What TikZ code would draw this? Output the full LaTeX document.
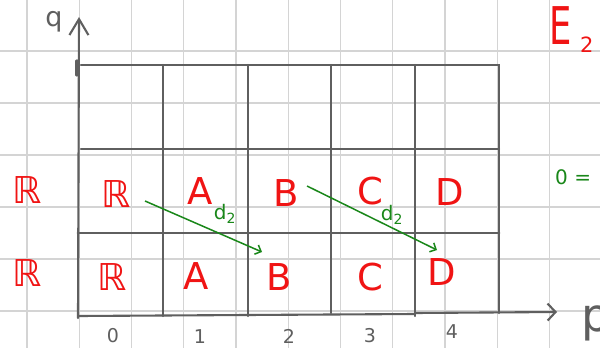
\documentclass[tikz,border=0pt]{standalone}
\usepackage{fontspec}
\setmainfont{DejaVu Sans}
\usetikzlibrary{arrows.meta}
\definecolor{hred}{RGB}{240,20,20}
\definecolor{hgreen}{RGB}{25,135,25}
\definecolor{hgray}{RGB}{95,95,95}
\definecolor{gridc}{RGB}{212,212,212}
\tikzset{
 bgrid/.style={draw=gridc, line width=1.3pt},
 boxline/.style={draw=hgray, line width=2.1pt, line cap=round},
 redlbl/.style={text=hred, font=\fontsize{37}{40}\selectfont, inner sep=0pt},
 grnarrow/.style={draw=hgreen, line width=1.5pt, -{Straight Barb[length=5pt,width=10pt]}},
 grnlbl/.style={text=hgreen, font=\fontsize{20}{22}\selectfont, inner sep=0pt},
 numlbl/.style={text=hgray, font=\fontsize{19}{21}\selectfont, inner sep=0pt},
}
\begin{document}
\begin{tikzpicture}[x=1pt,y=-1pt]
\useasboundingbox (0,0) rectangle (600,348);
\fill[white] (0,0) rectangle (600,348);
% background paper grid
\foreach \i in {0,...,10} \draw[bgrid] ({27+52.25*\i},0) -- ({27+52.25*\i},348);
\foreach \j in {1,...,6} \draw[bgrid] (0,{-1+52*\j}) -- (600,{-1+52*\j});
% table lines
\draw[boxline] (81,65) -- (499,65) -- (499,313);
\draw[boxline] (81,149) -- (499,149);
\draw[boxline, line width=2.8pt] (78,233) -- (499,233);
\draw[boxline] (79,316) -- (415,314);
\draw[boxline] (163,65) -- (163,316);
\draw[boxline] (248,65) -- (248,316);
\draw[boxline] (331,65) -- (331,313);
\draw[boxline] (415,65) -- (415,316);
% axes
\draw[boxline, -{Straight Barb[length=16pt,width=19pt]}] (78,318) -- (79,17);
\draw[boxline, line width=3.2pt] (77,61) -- (77,75);
\draw[boxline, -{Straight Barb[length=8pt,width=17pt]}] (415,313) -- (557,312);
\node[text=hgray, font=\fontsize{27}{29}\selectfont, inner sep=0pt, anchor=base] (qlab) at (54,27) {q};
\node[text=hgray, font=\fontsize{46}{48}\selectfont, inner sep=0pt, anchor=base west] (plab) at (581,331) {p};
% column numbers
\node[numlbl] (n0) at (113,336) {0};
\node[numlbl] (n1) at (200,337) {1};
\node[numlbl] (n2) at (289,336) {2};
\node[numlbl] (n3) at (370,336) {3};
\node[numlbl] (n4) at (452,332) {4};
% row 1
\node[redlbl] (rl1) at (27,190) {ℝ};
\node[redlbl] (r10) at (116,194) {ℝ};
\node[redlbl] (r11) at (200,191) {A};
\node[redlbl] (r12) at (286,193) {B};
\node[redlbl] (r13) at (370,191) {C};
\node[redlbl] (r14) at (450,192) {D};
% row 2
\node[redlbl] (rl2) at (27,273) {ℝ};
\node[redlbl] (r20) at (112,277) {ℝ};
\node[redlbl] (r21) at (196,276) {A};
\node[redlbl] (r22) at (279,277) {B};
\node[redlbl] (r23) at (370,277) {C};
\node[redlbl] (r24) at (442,272) {D};
% differentials
\coordinate (a1s) at (145,201);
\coordinate (a1e) at (262,252);
\coordinate (a2s) at (307,186);
\coordinate (a2e) at (437,250);
\draw[grnarrow] (a1s) -- (a1e);
\draw[grnarrow] (a2s) -- (a2e);
\node[grnlbl] (d1) at (225,214) {d\textsubscript{2}};
\node[grnlbl] (d2) at (392,215) {d\textsubscript{2}};
% right margin notes
\node[text=hred, font=\fontsize{52}{54}\selectfont, inner sep=0pt, anchor=base west] (E) at (549,45) {\scalebox{0.68}[1]{E}};
\node[text=hred, font=\fontsize{21}{23}\selectfont, inner sep=0pt, anchor=base west] (Esub) at (580,52) {2};
\node[text=hgreen, font=\fontsize{20}{22}\selectfont, inner sep=0pt, anchor=base west] (zeq) at (555,184) {0 =};
\end{tikzpicture}
\end{document}
